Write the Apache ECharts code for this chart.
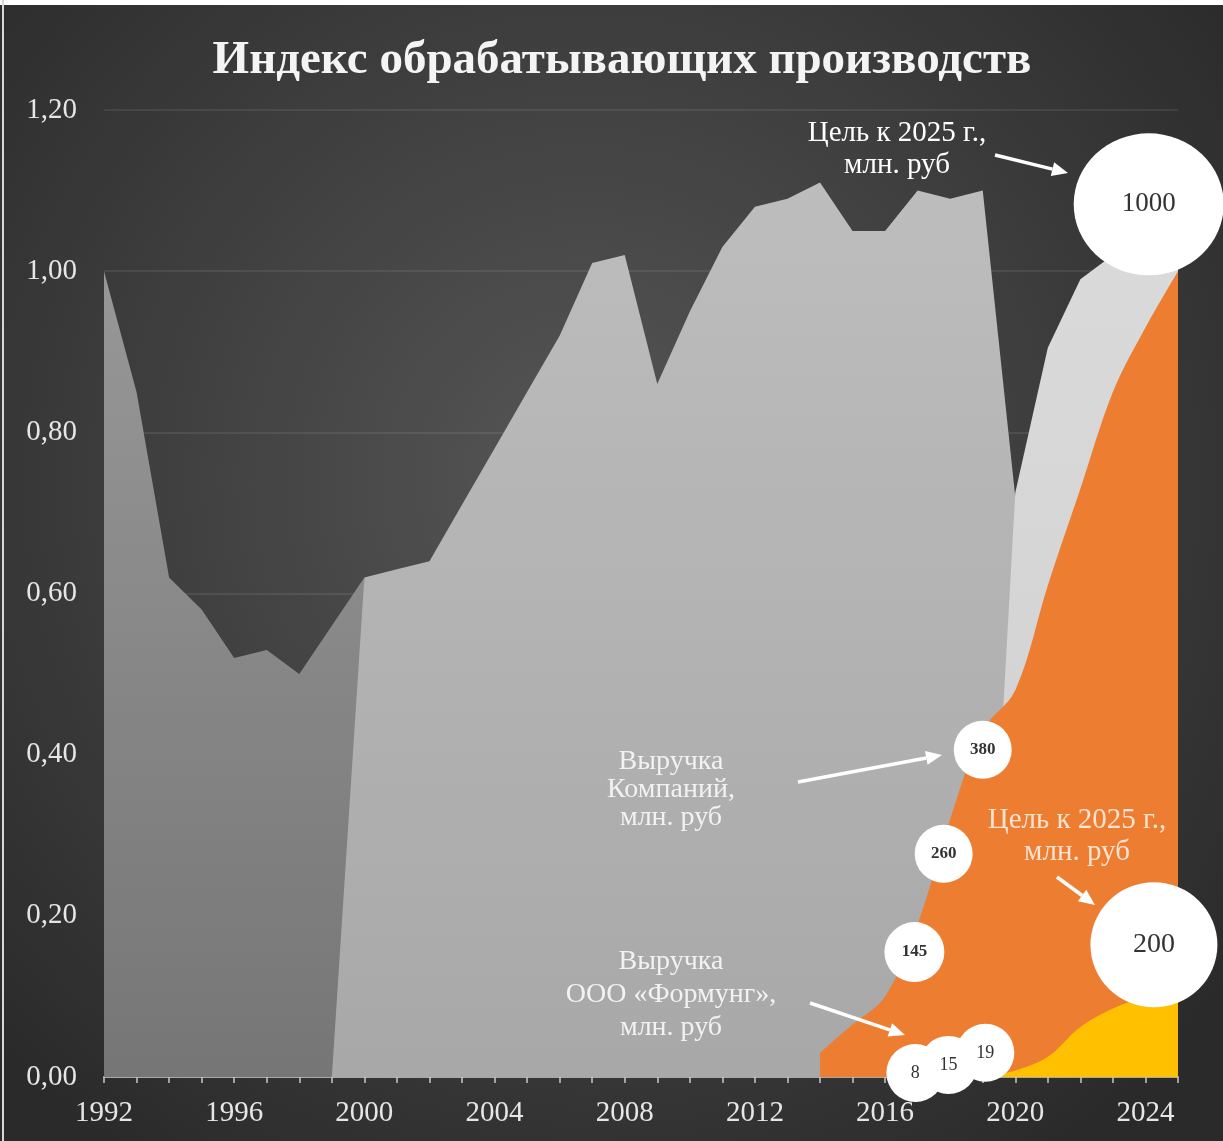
<!DOCTYPE html>
<html lang="ru">
<head>
<meta charset="UTF-8">
<title>Индекс обрабатывающих производств</title>
<script src="https://cdn.jsdelivr.net/npm/echarts@6/dist/echarts.min.js"></script>
<style>
    html,body{margin:0;padding:0;background:#fff}
    #main{width:1223px;height:1141px}
</style>
</head>
<body>
<div id="main"></div>
<script>
    // годы по оси X
    var years = ['1992','1993','1994','1995','1996','1997','1998','1999','2000','2001',
        '2002','2003','2004','2005','2006','2007','2008','2009','2010','2011',
        '2012','2013','2014','2015','2016','2017','2018','2019','2020','2021',
        '2022','2023','2024','2025'];

    // индекс 1992-2000 (задний слой)
    var indexOld = [1.00,0.85,0.62,0.58,0.52,0.53,0.50,0.56,0.62,
        null,null,null,null,null,null,null,null,null,null,null,null,null,null,null,null,
        null,null,null,null,null,null,null,null,null];
    // индекс 2000-2019
    var indexMain = [null,null,null,null,null,null,null,0,0.62,0.63,
        0.64,0.71,0.78,0.85,0.92,1.01,1.02,0.86,0.95,1.03,
        1.08,1.09,1.11,1.05,1.05,1.10,1.09,1.10,0.72,null,
        null,null,null,null];
    // индекс 2020-2025
    var indexNew = [null,null,null,null,null,null,null,null,null,null,
        null,null,null,null,null,null,null,null,null,null,
        null,null,null,null,null,null,null,0,0.725,0.905,
        0.99,1.02,1.03,1.04];
    // выручка компаний
    var revCompanies = [null,null,null,null,null,null,null,null,null,null,
        null,null,null,null,null,null,null,null,null,null,
        null,null,0.03,0.065,0.10,0.19,0.32,0.43,0.48,0.61,
        0.73,0.85,0.93,1.00];
    // выручка ООО «Формунг»
    var revFormung = [null,null,null,null,null,null,null,null,null,null,
        null,null,null,null,null,null,null,null,null,null,
        null,null,null,null,null,null,null,0,0.008,0.025,
        0.062,0.085,0.10,0.11];

    var yTicks = ['0,00','0,20','0,40','0,60','0,80','1,00','1,20'];

    // пузыри: подпись, год, уровень
    var bubbleText = ['1000','200','380','260','145','8','15','19'];
    var bubbleYear = [2024.1,2024.26,2019.0,2017.8,2016.9,2016.93,2017.95,2019.08];
    var bubbleLevel = [1.083,0.164,0.406,0.277,0.155,0.005,0.015,0.03];

    var bubbleDiam = [[150,142],[127,125],58,58,60,58,58,58];
    var bubbleFont = [[27,'normal'],[28,'normal'],[17,'bold'],[17,'bold'],[17,'bold'],[18,'normal'],[18,'normal'],[18,'normal']];

    var serif = '"Liberation Serif", "DejaVu Serif", serif';

    var bubbles = [];
    for (var i = 0; i < bubbleText.length; i++) {
        bubbles.push({
            value: [bubbleYear[i], bubbleLevel[i]],
            name: bubbleText[i],
            symbolSize: bubbleDiam[i],
            label: {fontSize: bubbleFont[i][0], fontWeight: bubbleFont[i][1]}
        });
    }

    function arrow(x1, y1, x2, y2) {
        var dx = x2 - x1, dy = y2 - y1;
        var len = Math.sqrt(dx * dx + dy * dy);
        var ux = dx / len, uy = dy / len;
        var hl = 16, hw = 7;
        var bx = x2 - ux * hl, by = y2 - uy * hl;
        return [
            {type: 'line', z: 100, shape: {x1: x1, y1: y1, x2: bx, y2: by}, style: {stroke: '#fff', lineWidth: 3.5}},
            {type: 'polygon', z: 100, shape: {points: [[x2, y2], [bx - uy * hw, by + ux * hw], [bx + uy * hw, by - ux * hw]]}, style: {fill: '#fff'}}
        ];
    }

    function note(x, y, text, color, size, lh) {
        return {type: 'text', z: 100, x: x, y: y, style: {
            text: text, fill: color, fontFamily: serif, fontSize: size,
            lineHeight: lh, align: 'center', verticalAlign: 'middle'
        }};
    }

    var graphics = [
        {type: 'rect', z: 200, shape: {x: 0, y: 0, width: 1223, height: 5}, style: {fill: '#fff'}},
        {type: 'rect', z: 200, shape: {x: 2, y: 0, width: 2, height: 1141}, style: {fill: '#d8d8d8'}},
        note(897, 149, 'Цель к 2025 г.,\nмлн. руб', '#ffffff', 29, 32),
        note(671, 790, 'Выручка\nКомпаний,\nмлн. руб', '#f2f2f2', 28, 28),
        note(1077, 836, 'Цель к 2025 г.,\nмлн. руб', '#f9e3d3', 29, 32),
        note(671, 995, 'Выручка\nООО «Формунг»,\nмлн. руб', '#f2f2f2', 28, 33)
    ].concat(arrow(995, 155, 1068, 173), arrow(798, 782, 942, 755),
        arrow(1057, 877, 1095, 905), arrow(810, 1003, 905, 1035));

    function areaSeries(data, fill, smooth, z) {
        return {
            type: 'line', data: data, xAxisIndex: 0, symbol: 'none', smooth: smooth, z: z,
            lineStyle: {width: 0}, areaStyle: {color: fill, opacity: 1}, silent: true
        };
    }

    function vgrad(top, bottom) {
        return new echarts.graphic.LinearGradient(0, 0, 0, 1, [{offset: 0, color: top}, {offset: 1, color: bottom}]);
    }

    var chart = echarts.init(document.getElementById('main'));
    chart.setOption({
        backgroundColor: {
            type: 'radial', x: 0.48, y: 0.42, r: 0.72,
            colorStops: [{offset: 0, color: '#565656'}, {offset: 1, color: '#2a2a2a'}]
        },
        animation: false,
        title: {
            text: 'Индекс обрабатывающих производств',
            left: 617, top: 32, textAlign: 'center',
            textStyle: {color: '#f4f4f4', fontFamily: serif, fontWeight: 'bold', fontSize: 47}
        },
        grid: {left: 104, right: 45, top: 110, bottom: 64},
        xAxis: [{
            type: 'category', data: years, boundaryGap: false,
            axisLine: {lineStyle: {color: '#a8a8a8', width: 2}},
            axisTick: {interval: 0, length: 6, lineStyle: {color: '#c8c8c8', width: 1.5}},
            axisLabel: {interval: 3, color: '#e6e6e6', fontFamily: serif, fontSize: 29, margin: 22},
            splitLine: {show: false}
        }, {
            type: 'value', min: 1992, max: 2025, show: false
        }],
        yAxis: {
            type: 'value', min: 0, max: 1.2, interval: 0.2,
            axisLine: {show: false}, axisTick: {show: false},
            axisLabel: {
                color: '#e6e6e6', fontFamily: serif, fontSize: 29, margin: 27,
                formatter: function (v) { return yTicks[Math.round(v / 0.2)]; }
            },
            splitLine: {lineStyle: {color: 'rgba(255,255,255,0.08)', width: 2}}
        },
        graphic: graphics,
        series: [
            areaSeries(indexOld, vgrad('#979797', '#767676'), false, 2),
            areaSeries(indexMain, vgrad('#bdbdbd', '#a8a8a8'), false, 3),
            areaSeries(indexNew, vgrad('#dadada', '#cfcfcf'), false, 4),
            areaSeries(revCompanies, '#ED7D31', 0.35, 5),
            areaSeries(revFormung, '#FFC000', 0.35, 6),
            {
                type: 'scatter', xAxisIndex: 1, z: 10, data: bubbles,
                symbol: 'circle',
                itemStyle: {color: '#ffffff', opacity: 1},
                label: {
                    show: true, position: 'inside', color: '#333333', fontFamily: serif,
                    formatter: function (p) { return p.name; }
                },
                silent: true
            }
        ]
    });
</script>
</body>
</html>
